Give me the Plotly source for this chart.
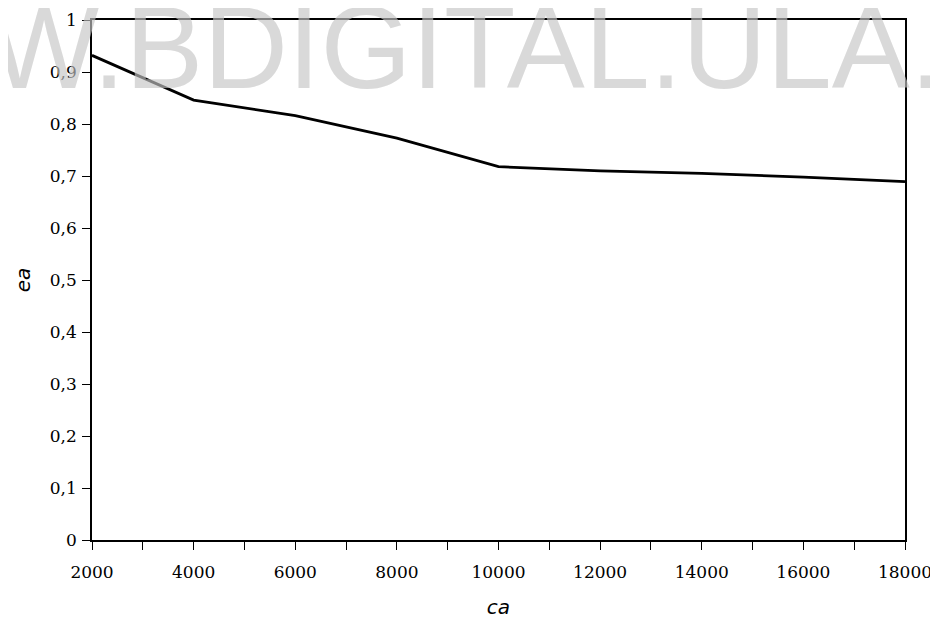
import plotly.graph_objects as go

ca = [2000, 4000, 6000, 8000, 10000, 12000, 14000, 16000, 18000]
ea = [0.932, 0.846, 0.816, 0.773, 0.718, 0.710, 0.705, 0.698, 0.689]

x_ticks = [2000, 4000, 6000, 8000, 10000, 12000, 14000, 16000, 18000]
x_labels = ["2000", "4000", "6000", "8000", "10000", "12000", "14000", "16000", "18000"]
y_ticks = [0, 0.1, 0.2, 0.3, 0.4, 0.5, 0.6, 0.7, 0.8, 0.9, 1]
y_labels = ["0", "0,1", "0,2", "0,3", "0,4", "0,5", "0,6", "0,7", "0,8", "0,9", "1"]

tick_font = dict(family="DejaVu Serif", size=17, color="black")

fig = go.Figure()
fig.add_trace(go.Scatter(x=ca, y=ea, mode="lines",
                         line=dict(color="black", width=2.8), showlegend=False))

fig.update_layout(
    width=930, height=611,
    margin=dict(l=84, r=33, t=12, b=79, autoexpand=False),
    paper_bgcolor="white", plot_bgcolor="white",
    xaxis=dict(
        range=[2000, 18000], tickmode="array", tickvals=x_ticks, ticktext=x_labels,
        ticks="outside", ticklen=8, tickwidth=1.3, tickcolor="black",
        minor=dict(dtick=1000, tick0=2000, ticks="outside", ticklen=8,
                   tickwidth=1.3, tickcolor="black", showgrid=False),
        showline=True, linecolor="black", linewidth=1.5, mirror=True,
        showgrid=False, zeroline=False, automargin=False,
        tickfont=tick_font, ticklabelstandoff=8,
        title=dict(text="<i>ca</i>", font=dict(family="DejaVu Sans", size=20, color="black"),
                   standoff=22),
    ),
    yaxis=dict(
        range=[0, 1], tickmode="array", tickvals=y_ticks, ticktext=y_labels,
        ticks="outside", ticklen=8, tickwidth=1.3, tickcolor="black",
        showline=True, linecolor="black", linewidth=1.5, mirror=True,
        showgrid=False, zeroline=False, automargin=False,
        tickfont=tick_font, ticklabelstandoff=2,
        title=dict(text="<i>ea</i>", font=dict(family="DejaVu Sans", size=20, color="black"),
                   standoff=14),
    ),
)

fig.add_annotation(
    text="WWW.BDIGITAL.ULA.VE", xref="paper", yref="paper",
    x=0.419, y=1 + 40 / 520, xanchor="center", yanchor="top",
    showarrow=False,
    font=dict(family="Liberation Sans", size=117, color="rgba(197,197,197,0.65)"),
)

fig.write_html("out.html")
